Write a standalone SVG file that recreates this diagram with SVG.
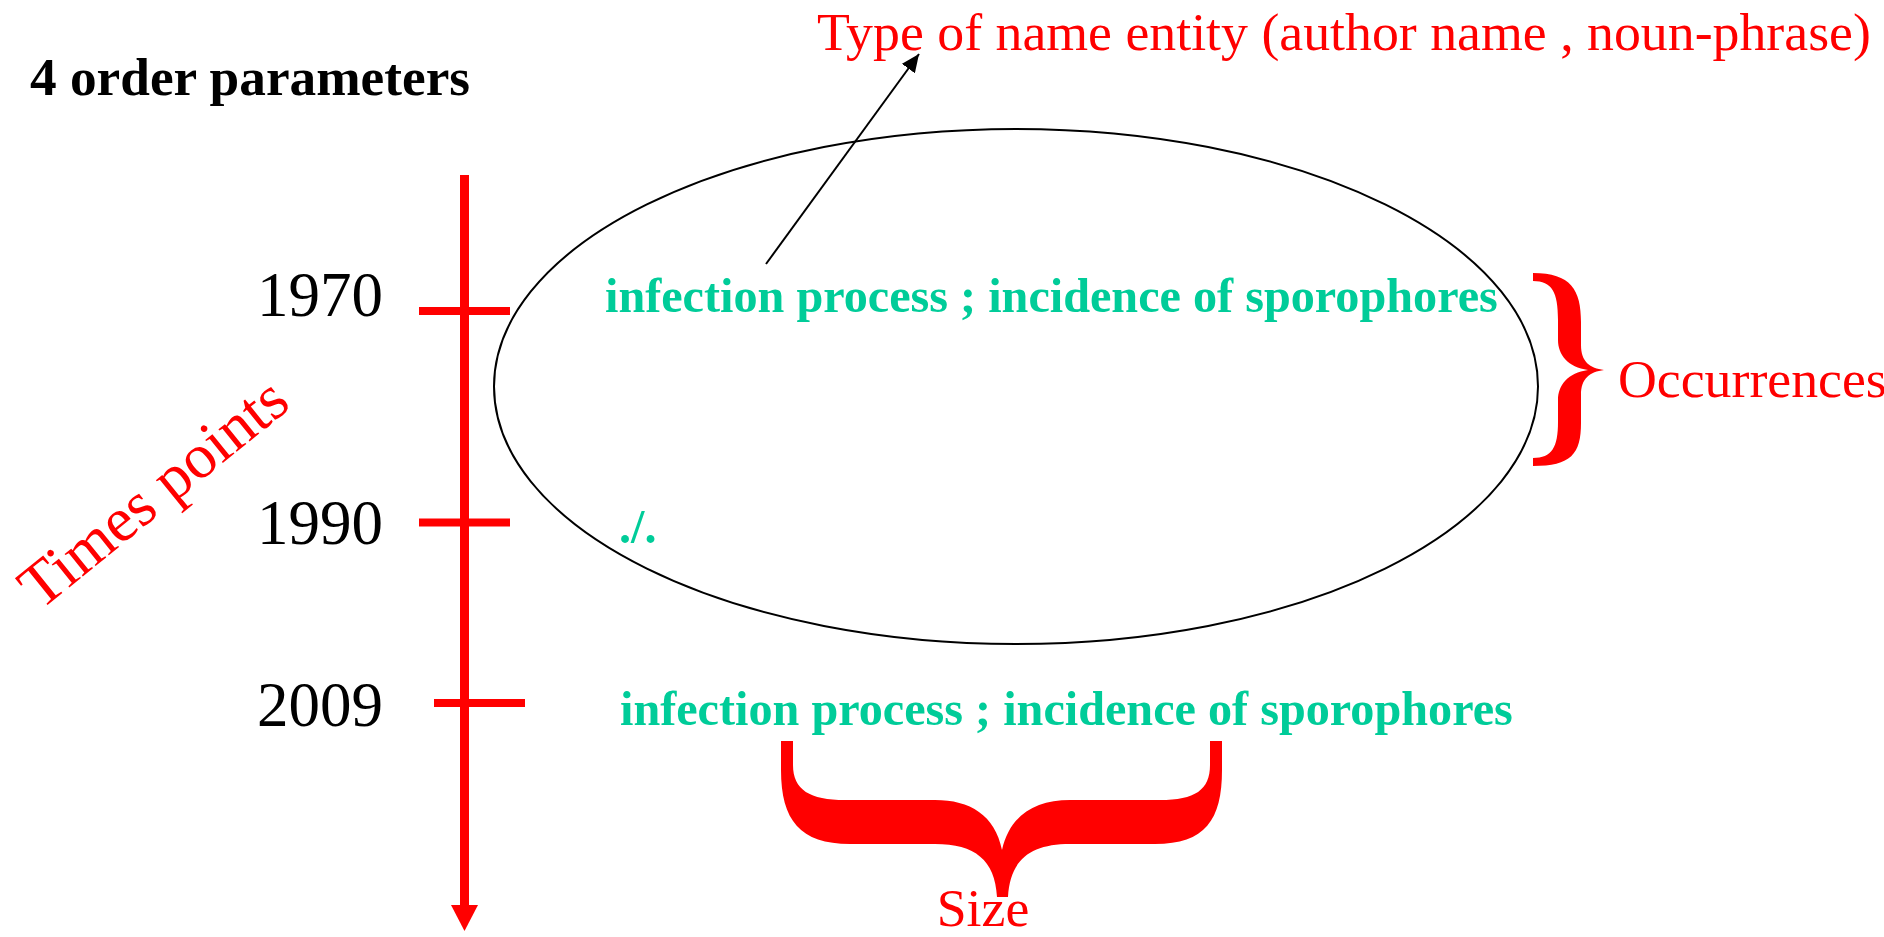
<svg xmlns="http://www.w3.org/2000/svg" width="1884" height="937" viewBox="0 0 1884 937">
  <style>
    .serif { font-family: "Liberation Serif", "Times New Roman", serif; }
    .red { fill: #ff0000; }
    .green { fill: #00cc99; font-weight: bold; font-size: 48.2px; }
    .year { fill: #000000; font-size: 63px; }
    .lbl { font-size: 53.8px; }
    .axis { stroke: #ff0000; stroke-width: 9; fill: none; }
    .tick { stroke: #ff0000; stroke-width: 8; fill: none; }
  </style>
  <defs>
    <marker id="blackHead" markerUnits="userSpaceOnUse" markerWidth="20" markerHeight="16" refX="18" refY="8" orient="auto">
      <path d="M0,0 L18,8 L0,16 Z" fill="#000000"/>
    </marker>
  </defs>
  <rect width="1884" height="937" fill="#ffffff"/>

  <g id="title">
    <text class="serif" x="30" y="95" font-size="53.3" font-weight="bold" fill="#000000">4 order parameters</text>
  </g>

  <g id="entity-type">
    <text class="serif red lbl" x="817" y="50">Type of name entity (author name , noun-phrase)</text>
  </g>

  <g id="set-ellipse">
    <ellipse cx="1016" cy="386.5" rx="522" ry="257.5" fill="none" stroke="#000000" stroke-width="2"/>
  </g>

  <g id="timeline">
    <line class="axis" x1="464.5" y1="175" x2="464.5" y2="908"/>
    <polygon points="451,905 478,905 464.5,931" fill="#ff0000"/>
    <line class="tick" x1="419" y1="311" x2="510" y2="311"/>
    <line class="tick" x1="419" y1="522.5" x2="510" y2="522.5"/>
    <line class="tick" x1="434" y1="703" x2="525" y2="703"/>
  </g>

  <g id="year-1970">
    <text class="serif year" x="383" y="316" text-anchor="end">1970</text>
  </g>
  <g id="year-1990">
    <text class="serif year" x="383" y="544" text-anchor="end">1990</text>
  </g>
  <g id="year-2009">
    <text class="serif year" x="383" y="726" text-anchor="end">2009</text>
  </g>

  <g id="times-points">
    <text class="serif red" font-size="63" transform="translate(40,611) rotate(-39)">Times points</text>
  </g>

  <g id="terms-1970">
    <text class="serif green" x="605" y="312">infection process ; incidence of sporophores</text>
  </g>
  <g id="terms-1990">
    <text class="serif green" x="619" y="543">./.</text>
  </g>
  <g id="terms-2009">
    <text class="serif green" x="620" y="725">infection process ; incidence of sporophores</text>
  </g>

  <g id="occurrences">
    <path class="red" d="M1533,273 C1571,273 1581,290 1581,322 L1581,345 C1581,362 1590,368 1604,370 C1590,372 1581,378 1581,395 L1581,423 C1581,454 1571,466 1533,466 L1533,458 C1552,458 1558,447 1558,422 L1558,400 C1558,385 1568,373 1588,370 C1568,367 1558,355 1558,340 L1558,320 C1558,292 1552,281 1533,281 Z"/>
    <text class="serif red lbl" x="1618" y="397">Occurrences</text>
  </g>

  <g id="size">
    <path class="red" d="M781,741 L781,770 C781,820 800,844 850,844 L935,844 C975,844 995,860 997,897 L1008,897 C1010,860 1030,844 1070,844 L1155,844 C1205,844 1222,820 1222,770 L1222,741 L1210,741 L1210,765 C1210,790 1195,800 1160,800 L1070,800 C1035,800 1010,815 1002,850 C995,815 970,800 935,800 L845,800 C810,800 793,790 793,765 L793,741 Z"/>
    <text class="serif red lbl" x="983" y="926" text-anchor="middle">Size</text>
  </g>

  <g id="connectors">
    <line x1="766" y1="264" x2="919" y2="54" stroke="#000000" stroke-width="2" marker-end="url(#blackHead)"/>
  </g>
</svg>
